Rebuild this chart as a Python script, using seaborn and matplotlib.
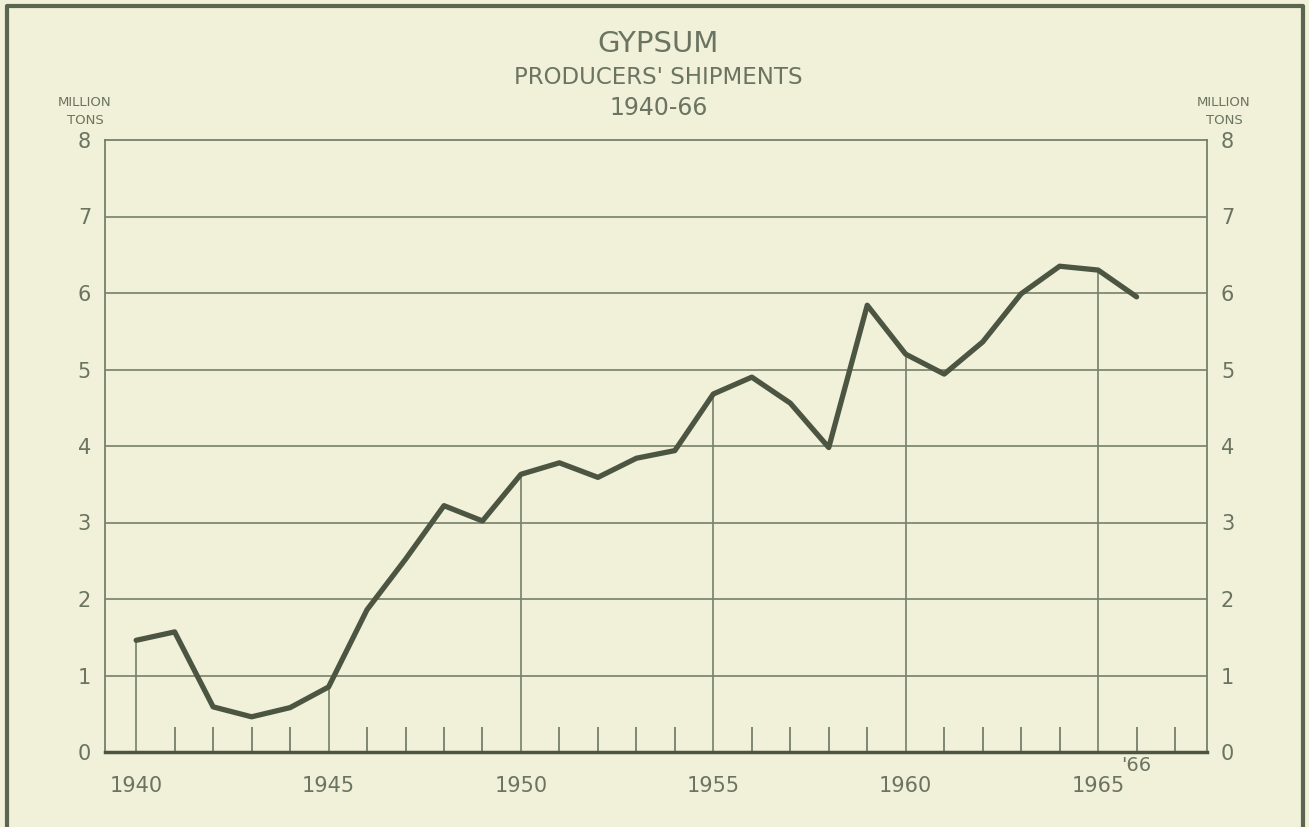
import numpy as np
import pandas as pd
import matplotlib
matplotlib.use("Agg")
import matplotlib.pyplot as plt
import seaborn as sns

# Gypsum producers' shipments, million tons
years = list(range(1940, 1967))
shipments = [1.46, 1.57, 0.59, 0.46, 0.58, 0.85, 1.86, 2.52, 3.22, 3.02,
             3.63, 3.78, 3.59, 3.84, 3.94, 4.68, 4.90, 4.56, 3.98, 5.84,
             5.20, 4.94, 5.36, 5.99, 6.35, 6.30, 5.95]
major_years = [1940, 1945, 1950, 1955, 1960, 1965]
minor_years = [y for y in range(1941, 1968) if y % 5 != 0]
y_ticks = [0, 1, 2, 3, 4, 5, 6, 7, 8]

bg = "#f1f0d8"
ink = "#4b5541"
text_col = "#6a7460"
grid_col = "#76806a"

sns.set_style("white", {"axes.facecolor": bg, "figure.facecolor": bg})
plt.rcParams['font.family'] = ['DejaVu Sans']

df = pd.DataFrame({"year": years, "tons": shipments})

fig = plt.figure(figsize=(13.09, 8.27), dpi=100)
ax = fig.add_axes([105 / 1309, 75 / 827, 1102 / 1309, 612 / 827])

# horizontal grid lines
for v in y_ticks[1:-1]:
    ax.axhline(v, color=grid_col, lw=1.2, zorder=1)

# drop lines at the five-year marks, from zero up to the curve
drop = df[df["year"].isin(major_years)]
ax.vlines(drop["year"], 0, drop["tons"], color=grid_col, lw=1.2, zorder=1)

sns.lineplot(data=df, x="year", y="tons", ax=ax, color=ink, lw=3.8,
             zorder=3)

ax.set_xlim(1939.19, 1967.83)
ax.set_ylim(0, 8)

for side in ["left", "right", "top"]:
    ax.spines[side].set_color(grid_col)
    ax.spines[side].set_linewidth(1.3)
ax.spines["bottom"].set_color(ink)
ax.spines["bottom"].set_linewidth(2.5)

ax.set_xticks(major_years)
ax.set_xticklabels([str(y) for y in major_years])
ax.set_xticks(minor_years, minor=True)
ax.tick_params(axis="x", which="major", bottom=True, length=0, pad=17,
               labelsize=15, labelcolor=text_col)
ax.tick_params(axis="x", which="minor", bottom=True, direction="in",
               length=18, width=1.3, color=grid_col)

ax.set_yticks(y_ticks)
ax.set_yticklabels([str(v) for v in y_ticks])
ax.tick_params(axis="y", length=0, pad=10, labelsize=15, labelcolor=text_col,
               labelright=True, labelleft=True)

ax.set_xlabel("")
ax.set_ylabel("")

# '66 marker under the last year
ax.annotate("'66", xy=(1966, 0), xytext=(0, -10), textcoords="offset points",
            ha="center", va="center", fontsize=14, color=text_col,
            annotation_clip=False)

# titles
fig.text(0.503, 1 - 44 / 827, "GYPSUM", ha="center", va="center",
         fontsize=21, color=text_col)
fig.text(0.503, 1 - 77 / 827, "PRODUCERS' SHIPMENTS", ha="center",
         va="center", fontsize=16.5, color=text_col)
fig.text(0.503, 1 - 108 / 827, "1940-66", ha="center", va="center",
         fontsize=17, color=text_col)

# axis units
for xpix in (85, 1224):
    fig.text(xpix / 1309, 1 - 102 / 827, "MILLION", ha="center", va="center",
             fontsize=9.5, color=text_col)
    fig.text(xpix / 1309, 1 - 121 / 827, "TONS", ha="center", va="center",
             fontsize=9.5, color=text_col)

# outer frame (bottom edge runs off the page)
fig.add_artist(plt.Line2D([7 / 1309, 7 / 1309, 1303 / 1309, 1303 / 1309],
                          [-0.01, 1 - 6 / 827, 1 - 6 / 827, -0.01],
                          transform=fig.transFigure, color="#5a664f", lw=3))

fig.savefig("out.png", dpi=100, facecolor=bg)
